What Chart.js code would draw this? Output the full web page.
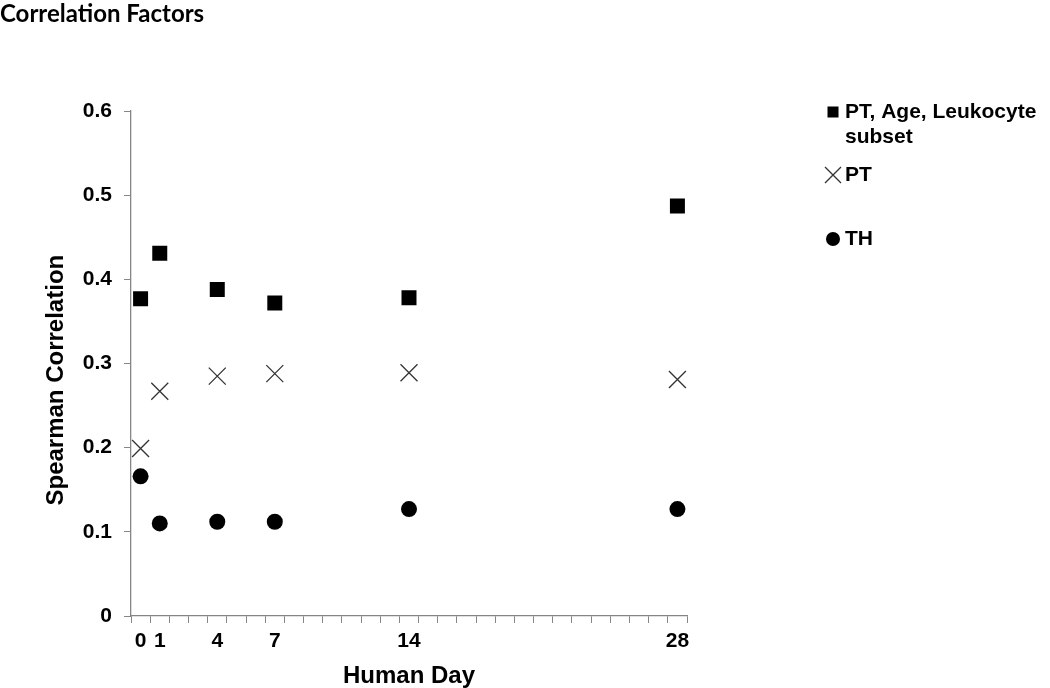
<!DOCTYPE html>
<html>
<head>
<meta charset="utf-8">
<script src="https://cdn.jsdelivr.net/npm/chart.js@4/dist/chart.umd.min.js"></script>
<style>
  html, body { margin: 0; padding: 0; background: #fff; }
  #wrap { width: 1050px; height: 688px; position: relative; }
</style>
</head>
<body>
<div id="wrap"><canvas id="chart"></canvas></div>
<script>
// every day from 0 to 28 is a slot on the axis, only some get a label
const dayLabels = Array.from({ length: 29 }, (_, i) => String(i));
const shownDays = ["0", "1", "4", "7", "14", "28"];

const days = ["0", "1", "4", "7", "14", "28"];
const ptAgeLeuk = [0.377, 0.431, 0.388, 0.372, 0.378, 0.487];
const ptOnly = [0.199, 0.267, 0.285, 0.288, 0.289, 0.281];
const thOnly = [0.166, 0.110, 0.112, 0.112, 0.127, 0.127];

const seriesNames = [["PT, Age, Leukocyte", "subset"], ["PT"], ["TH"]];

const AXIS_GREY = "#868686";
const FONT = "'Liberation Sans', Arial, sans-serif";

function points(values) {
	return days.map((d, i) => ({ x: d, y: values[i] }));
}

// legend drawn by hand, the original has uneven gaps and a wrapped label
const sideLegend = {
	id: "sideLegend",
	afterDraw(chart) {
		const ctx = chart.ctx;
		const rows = [112, 175, 239];
		const mx = 833;
		ctx.save();
		chart.data.datasets.forEach((ds, i) => {
			const y = rows[i];
			ctx.fillStyle = "#000";
			ctx.strokeStyle = ds.borderColor;
			if (ds.pointStyle === "rect") {
				ctx.fillRect(mx - 5.5, y - 5.5, 11, 11);
			} else if (ds.pointStyle === "crossRot") {
				ctx.lineWidth = 1.3;
				ctx.beginPath();
				ctx.moveTo(mx - 8, y - 8);
				ctx.lineTo(mx + 8, y + 8);
				ctx.moveTo(mx + 8, y - 8);
				ctx.lineTo(mx - 8, y + 8);
				ctx.stroke();
			} else {
				ctx.beginPath();
				ctx.arc(mx, y, 7, 0, Math.PI * 2);
				ctx.fill();
			}
			ctx.fillStyle = "#000";
			ctx.font = "bold 21px " + FONT;
			ctx.textBaseline = "middle";
			ctx.textAlign = "left";
			seriesNames[i].forEach((line, j) => {
				ctx.fillText(line, 845, y + j * 25);
			});
		});
		ctx.restore();
	},
};

const config = {
	type: "line",
	data: {
		labels: dayLabels,
		datasets: [
			{
				label: seriesNames[0].join(" "),
				data: points(ptAgeLeuk),
				showLine: false,
				pointStyle: "rect",
				pointRadius: 10.6,
				backgroundColor: "#000",
				borderColor: "#000",
				borderWidth: 0,
			},
			{
				label: seriesNames[1].join(" "),
				data: points(ptOnly),
				showLine: false,
				pointStyle: "crossRot",
				pointRadius: 12,
				backgroundColor: "#333",
				borderColor: "#333",
				borderWidth: 1.3,
			},
			{
				label: seriesNames[2].join(" "),
				data: points(thOnly),
				showLine: false,
				pointStyle: "circle",
				pointRadius: 8,
				backgroundColor: "#000",
				borderColor: "#000",
				borderWidth: 0,
			},
		],
	},
	options: {
		responsive: true,
		maintainAspectRatio: false,
		animation: false,
		layout: {
			padding: { top: 0, left: 0, right: 363, bottom: 0 },
		},
		scales: {
			x: {
				type: "category",
				offset: true,
				afterFit: (s) => { s.height = 72; },
				grid: {
					offset: true,
					drawOnChartArea: false,
					tickLength: 7,
					color: AXIS_GREY,
				},
				border: { color: AXIS_GREY, width: 1.3 },
				ticks: {
					autoSkip: false,
					maxRotation: 0,
					padding: 6,
					color: "#000",
					font: { family: FONT, size: 21, weight: "bold" },
					callback: function (v, i) {
						const lab = dayLabels[i];
						return shownDays.includes(lab) ? lab : "";
					},
				},
				title: {
					display: true,
					text: "Human Day",
					color: "#000",
					font: { family: FONT, size: 24, weight: "bold", lineHeight: 1 },
					padding: { top: 0, bottom: 0 },
				},
			},
			y: {
				min: 0,
				max: 0.6,
				afterFit: (s) => { s.width = 131; },
				grid: {
					drawOnChartArea: false,
					tickLength: 7,
					color: AXIS_GREY,
				},
				border: { color: AXIS_GREY, width: 1.3 },
				ticks: {
					stepSize: 0.1,
					padding: 12,
					color: "#000",
					font: { family: FONT, size: 21, weight: "bold" },
					callback: (v) => (v === 0 ? "0" : v.toFixed(1)),
				},
				title: {
					display: true,
					// trailing spaces nudge the centred title down a bit, like the original
					text: "Spearman Correlation     ",
					color: "#000",
					font: { family: FONT, size: 24, weight: "bold", lineHeight: 1 },
					padding: { top: 44, bottom: 0 },
				},
			},
		},
		plugins: {
			legend: { display: false },
			tooltip: { enabled: false },
			title: {
				display: true,
				text: "Correlation Factors",
				align: "start",
				color: "#000",
				font: { family: "Lato, 'Open Sans', sans-serif", size: 24, weight: "bold", lineHeight: 1.2 },
				padding: { top: 0, bottom: 82.2 },
			},
		},
	},
	plugins: [sideLegend],
};

const chart = new Chart(document.getElementById("chart"), config);
</script>
</body>
</html>
